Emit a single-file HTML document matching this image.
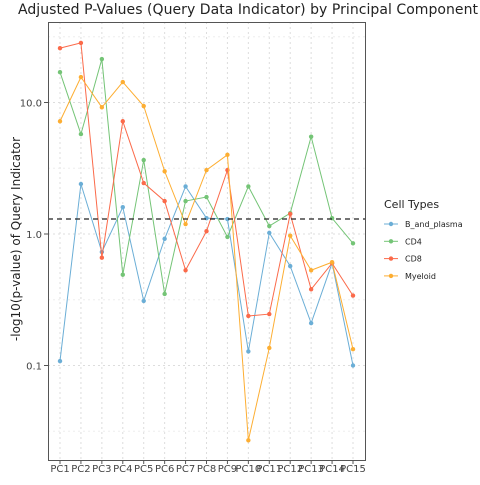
<!DOCTYPE html>
<html><head><meta charset="utf-8"><style>
body{margin:0;background:#fff;font-family:"Liberation Sans","DejaVu Sans",sans-serif}
</style></head><body>
<svg id="chart" width="480" height="480" xmlns="http://www.w3.org/2000/svg" font-family="DejaVu Sans, Liberation Sans, sans-serif">
<rect width="480" height="480" fill="#fff"/>
<text x="18" y="14" font-size="14" textLength="460" fill="#222">Adjusted P-Values (Query Data Indicator) by Principal Component</text>
<text transform="translate(20,239) rotate(-90)" text-anchor="middle" font-size="12" fill="#222">-log10(p-value) of Query Indicator</text>
<g id="grid"></g><g id="axes"></g><g id="series"></g>
<rect x="48.5" y="22.5" width="317" height="438" fill="none" stroke="#555" stroke-width="1"/>
<g>
<text x="384" y="208" font-size="11" fill="#222">Cell Types</text>
<g id="legend"></g>
</g>
</svg>
<script>
const categories=["PC1","PC2","PC3","PC4","PC5","PC6","PC7","PC8","PC9","PC10","PC11","PC12","PC13","PC14","PC15"];
const seriesNames=["B_and_plasma","CD4","CD8","Myeloid"];
const colors=["#6baed6","#74c476","#fb6a4a","#fdae32"];
const bPlasma=[0.108,2.4,0.73,1.6,0.31,0.92,2.3,1.32,1.3,0.128,1.02,0.57,0.21,0.6,0.1];
const cd4=[17,5.75,21.4,0.49,3.65,0.35,1.78,1.91,0.95,2.3,1.15,1.44,5.5,1.32,0.85];
const cd8=[25.9,28.4,0.66,7.2,2.44,1.78,0.53,1.05,3.06,0.238,0.246,1.42,0.38,0.6,0.34];
const myeloid=[7.2,15.6,9.2,14.3,9.4,3.0,1.19,3.06,4.0,0.027,0.136,0.97,0.53,0.61,0.133];
const yTicks=[10,1,0.1];
const yTickLabels=["10.0","1.0","0.1"];
const threshold=1.301;
const data=[bPlasma,cd4,cd8,myeloid];
const NS="http://www.w3.org/2000/svg";
const X=i=>60+i*(353-60)/(categories.length-1);
const Y=v=>234-131.5*Math.log10(v);
function mk(tag,attrs,parent){const e=document.createElementNS(NS,tag);for(const k in attrs)e.setAttribute(k,attrs[k]);parent.appendChild(e);return e;}
const grid=document.getElementById('grid'),axes=document.getElementById('axes'),ser=document.getElementById('series'),leg=document.getElementById('legend');
categories.forEach((c,i)=>{
 const g=mk('line',{x1:X(i),x2:X(i),y1:22,y2:460,stroke:'#ddd','stroke-dasharray':'2,3'},grid);
 
 
 mk('line',{x1:X(i),x2:X(i),y1:460,y2:464,stroke:'#555'},axes);
 const t=mk('text',{x:X(i),y:472,'text-anchor':'middle','font-size':'10',fill:'#444'},axes);
 t.textContent=c;
 
 
});
[100,10,1,0.1,0.01].forEach(v=>{const yy=Y(v*Math.sqrt(10)/10);if(yy>22&&yy<460){const m=mk('line',{x1:48,x2:366,y1:yy,y2:yy,stroke:'#eee','stroke-dasharray':'2,3'},grid);}});
yTicks.forEach((v,i)=>{
 const g=mk('line',{x1:48,x2:366,y1:Y(v),y2:Y(v),stroke:'#ddd','stroke-dasharray':'2,3'},grid);
 
 
 mk('line',{x1:44,x2:48,y1:Y(v),y2:Y(v),stroke:'#555'},axes);
 const t=mk('text',{x:42,y:Y(v)+4,'text-anchor':'end','font-size':'10',fill:'#444'},axes);
 t.textContent=yTickLabels[i];
 
 
});
data.forEach((vals,s)=>{
 const p=mk('polyline',{points:vals.map((v,i)=>X(i)+','+Y(v)).join(' '),fill:'none',stroke:colors[s],'stroke-width':1},ser);
 
 
 vals.forEach((v,i)=>{const c=mk('circle',{cx:X(i),cy:Y(v),r:2.2,fill:colors[s]},ser);
 
 });
});
const th=mk('line',{x1:48,x2:366,y1:Y(threshold),y2:Y(threshold),stroke:'#222','stroke-dasharray':'5,4','stroke-width':1.2},ser);


seriesNames.forEach((n,s)=>{
 const yy=224+s*17.3;
 const l=mk('line',{x1:384,x2:398,y1:yy,y2:yy,stroke:colors[s]},leg);
 
 
 mk('circle',{cx:391,cy:yy,r:2.2,fill:colors[s]},leg);
 const t=mk('text',{x:405,y:yy+3,'font-size':'8',fill:'#222'},leg);
 t.textContent=n;
 
 
});
</script>
</body></html>
